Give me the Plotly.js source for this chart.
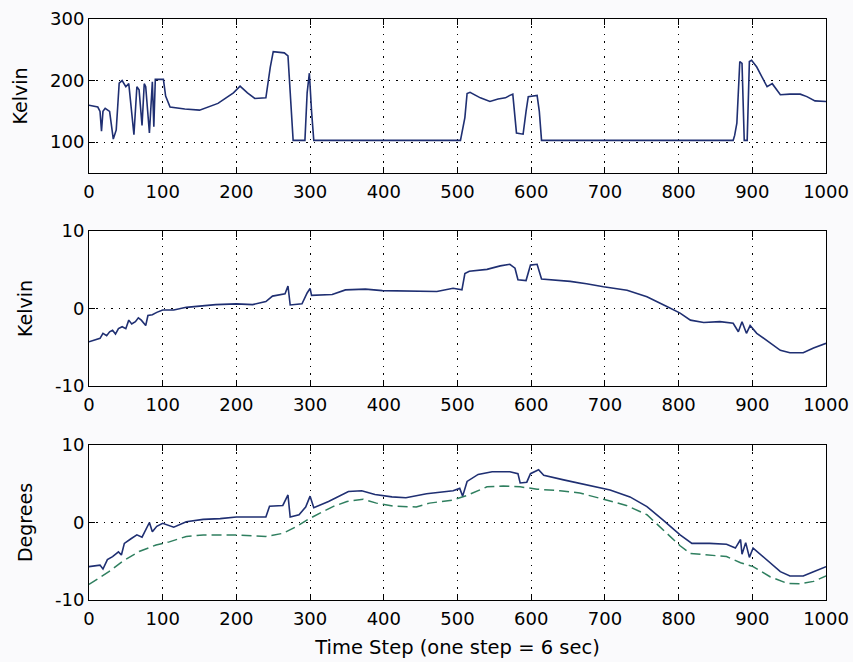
<!DOCTYPE html>
<html>
<head>
<meta charset="utf-8">
<script src="https://cdn.plot.ly/plotly-3.0.1.min.js"></script>
<style>html,body{margin:0;padding:0;background:#fafafc;}#chart{width:853px;height:662px;}</style>
</head>
<body>
<div id="chart"></div>
<script>
// Panel 1 (Kelvin)
var p1X = [0,12,15,17,19,22,28,33,37,41,45,50,54,58,61,65,68,72,75,77,82,86,88,90,93,101,104,110,130,150,175,196,205,215,225,240,246,250,265,270,277,293,296,299,302,305,504,510,513,517,531,544,555,565,571,575,580,589,593,596,608,611,614,874,876,879,883,886,889,893,896,899,906,915,920,927,938,951,965,974,985,1000];
var p1Y = [160,157,150,118,150,155,150,105,120,196,200,190,195,150,112,190,185,127,195,190,115,198,125,202,202,202,175,157,154,152,163,180,191,180,171,172,222,247,245,240,103,103,180,212,150,103,103,140,179,181,172,166,170,172,176,178,115,113,150,174,176,150,103,103,111,131,231,228,103,103,231,233,222,201,190,195,177,178,178,174,167,166];
// Panel 2 (Kelvin)
var p2X = [0,15,19,24,28,32,36,40,45,50,54,58,63,67,71,77,80,86,92,100,115,132,150,172,200,222,240,249,266,270,273,289,296,300,302,330,348,375,398,449,472,494,506,510,516,540,558,571,578,582,593,599,608,614,630,653,675,698,730,757,784,802,816,834,856,874,881,886,892,897,906,924,938,951,969,983,1000];
var p2Y = [-4.3,-3.85,-3.2,-3.5,-3.0,-2.8,-3.3,-2.6,-2.35,-2.6,-1.5,-2.0,-1.7,-1.2,-1.5,-2.2,-0.9,-0.8,-0.5,-0.2,-0.2,0.15,0.3,0.5,0.6,0.5,0.9,1.6,1.9,2.9,0.45,0.6,2.0,2.6,1.7,1.8,2.4,2.5,2.3,2.2,2.2,2.6,2.4,4.5,4.8,5.05,5.5,5.7,5.2,3.7,3.6,5.6,5.7,3.8,3.7,3.5,3.2,2.8,2.35,1.5,0.25,-0.6,-1.5,-1.8,-1.7,-1.9,-3.0,-1.7,-3.2,-2.2,-3.2,-4.5,-5.4,-5.7,-5.7,-5.1,-4.5];
// Panel 3 (Degrees) solid
var p3X = [0,15,19,25,32,40,44,48,57,65,72,77,82,86,92,100,115,132,155,178,200,222,240,245,263,270,273,285,294,300,305,325,352,370,388,411,430,458,494,503,507,513,528,547,571,582,585,594,599,610,617,644,675,707,734,757,779,802,818,842,865,877,884,886,891,896,901,920,938,951,969,983,1000];
var p3Y = [-5.7,-5.5,-6.0,-4.8,-4.4,-3.8,-4.2,-2.7,-2.1,-1.6,-1.9,-1.0,0.0,-1.2,-0.5,-0.1,-0.6,0.1,0.4,0.5,0.7,0.7,0.7,2.1,2.2,3.55,0.7,1.0,2.0,3.4,1.9,2.7,4.0,4.1,3.6,3.3,3.2,3.7,4.1,4.4,3.4,5.3,6.2,6.55,6.55,6.3,5.1,5.2,6.3,6.8,6.1,5.5,4.85,4.2,3.3,2.05,0.3,-1.6,-2.7,-2.7,-2.8,-3.3,-2.2,-4.1,-2.6,-4.5,-3.3,-4.85,-6.35,-6.9,-6.9,-6.35,-5.7];
// Panel 3 dashed
var p3dX = [0,7,27,45,68,91,109,132,155,196,240,263,281,299,313,331,350,372,390,413,444,462,494,513,540,562,585,608,639,666,698,729,757,784,802,816,842,865,884,901,924,947,965,983,1000];
var p3dY = [-8.0,-7.6,-6.35,-5.05,-3.75,-2.9,-2.5,-1.8,-1.6,-1.6,-1.8,-1.4,-0.55,0.5,1.15,2.05,2.7,3.0,2.5,2.1,2.0,2.5,2.9,3.5,4.6,4.7,4.6,4.3,4.1,3.8,3.0,2.2,1.0,-1.4,-3.0,-4.0,-4.2,-4.4,-5.2,-5.7,-7.0,-7.85,-7.9,-7.6,-6.9];

var xTicks = [0,100,200,300,400,500,600,700,800,900,1000];
var y1Ticks = [100,200,300];
var y23Ticks = [-10,0,10];

var lineCol = '#1f2f72';
var FONT = 'DejaVu Sans, Arial, sans-serif';

var traces = [
  {x:p1X, y:p1Y, xaxis:'x', yaxis:'y', mode:'lines', line:{color:lineCol, width:1.6}, showlegend:false},
  {x:p2X, y:p2Y, xaxis:'x2', yaxis:'y2', mode:'lines', line:{color:lineCol, width:1.6}, showlegend:false},
  {x:p3dX, y:p3dY, xaxis:'x3', yaxis:'y3', mode:'lines', line:{color:'#2f7f5f', width:1.5, dash:'10px,5px'}, showlegend:false},
  {x:p3X, y:p3Y, xaxis:'x3', yaxis:'y3', mode:'lines', line:{color:lineCol, width:1.6}, showlegend:false}
];

function xa(anchor){
  return {domain:[0.1043,0.9684], range:[0,1000], anchor:anchor, tickvals:xTicks, ticktext:xTicks.map(String),
    ticks:'inside', ticklen:6, tickcolor:'#000', showline:true, linecolor:'#000', linewidth:1, mirror:'allticks',
    showgrid:true, gridcolor:'#000', gridwidth:1, griddash:'1.5px,6px', zeroline:false,
    tickfont:{family:FONT, size:18, color:'#000'}, ticklabelstandoff:2};
}
function ya(anchor, dom, rng, tv, title){
  return {domain:dom, range:rng, anchor:anchor, tickvals:tv, ticktext:tv.map(String),
    ticks:'inside', ticklen:6, tickcolor:'#000', showline:true, linecolor:'#000', linewidth:1, mirror:'allticks',
    showgrid:true, gridcolor:'#000', gridwidth:1, griddash:'1.5px,6px', zeroline:false,
    tickfont:{family:FONT, size:18, color:'#000'},
    title:{text:title, font:{family:FONT, size:19, color:'#000'}, standoff:17}};
}

var x3 = xa('y3');
x3.title = {text:'Time Step (one step = 6 sec)', font:{family:FONT, size:19.5, color:'#000'}, standoff:12};

var layout = {
  width:853, height:662,
  margin:{l:0, r:0, t:0, b:0},
  paper_bgcolor:'#fafafc', plot_bgcolor:'#ffffff',
  xaxis:xa('y'), xaxis2:xa('y2'), xaxis3:x3,
  yaxis:ya('x', [0.7387,0.9713], [50,300], y1Ticks, 'Kelvin'),
  yaxis2:ya('x2', [0.4169,0.6511], [-10,10], y23Ticks, 'Kelvin'),
  yaxis3:ya('x3', [0.0937,0.3278], [-10,10], y23Ticks, 'Degrees')
};

Plotly.newPlot('chart', traces, layout, {displayModeBar:false, staticPlot:true});
</script>
</body>
</html>
